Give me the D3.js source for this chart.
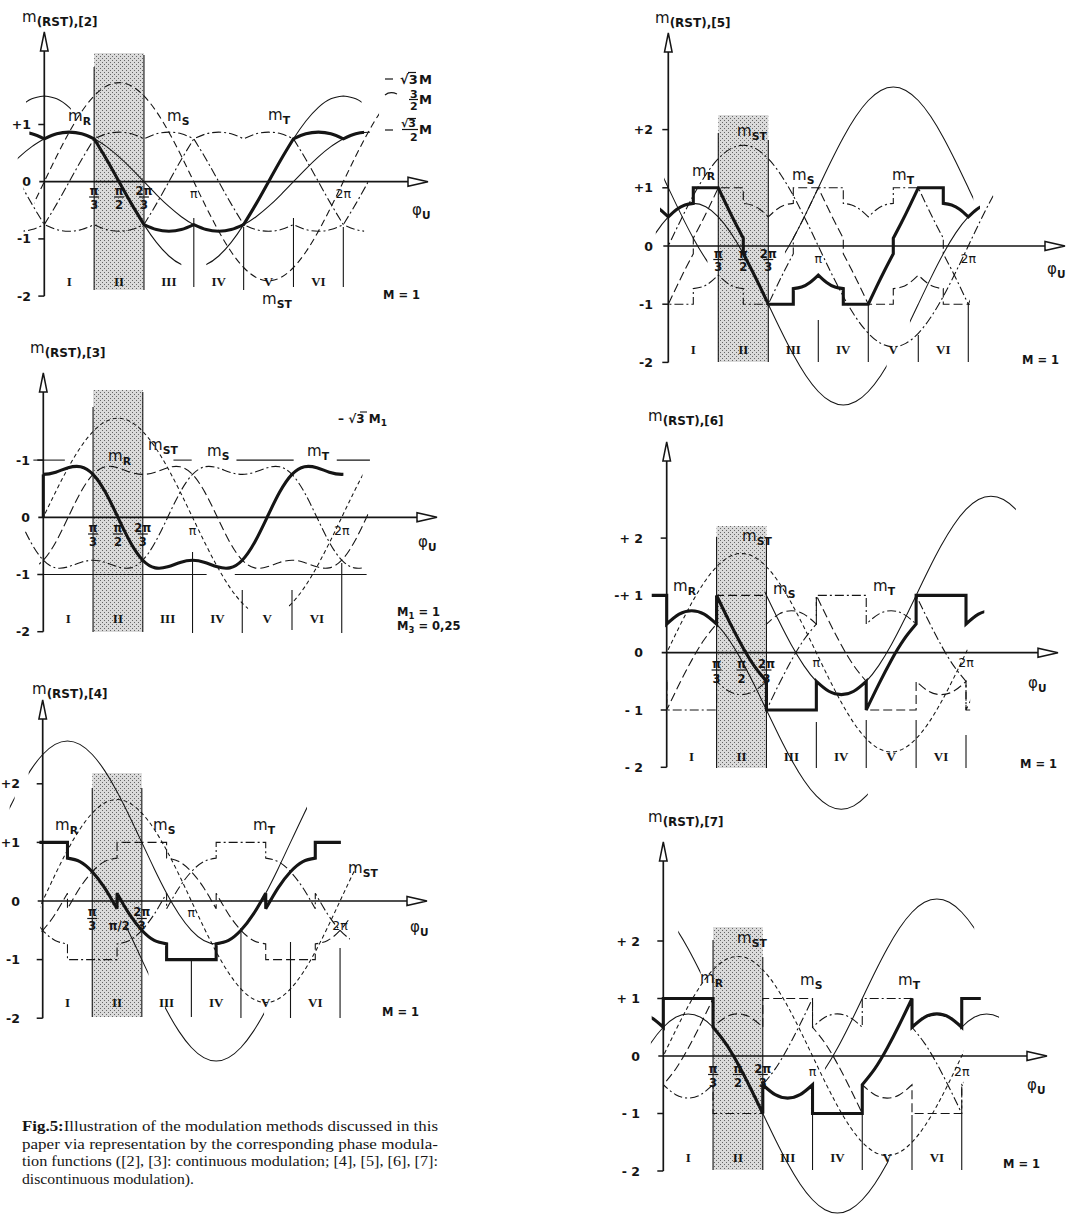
<!DOCTYPE html>
<html>
<head>
<meta charset="utf-8">
<script src="https://cdn.jsdelivr.net/npm/d3@7"></script>
<style>
  body { margin: 0; background: #fff; }
  svg { display: block; }
  .lbl { font-family: "DejaVu Sans", sans-serif; fill: #151515; }
  .rom { font-family: "Liberation Serif", "DejaVu Serif", serif; font-weight: bold; fill: #151515; }
  .cap { font-family: "Liberation Serif", "DejaVu Serif", serif; fill: #151515; }
</style>
</head>
<body>
<svg id="fig" width="1067" height="1214"></svg>
<script>
// ---------------------------------------------------------------
// Phase modulation functions m(φ_U), one period, [phase in degrees, value].
// A repeated phase marks a corner, cusp or jump between two pieces.
// ---------------------------------------------------------------

// [2] space-vector modulation
const mR2 = [[0,.75],[15,.837],[30,.866],[45,.837],[60,.75],
  [60,.75],[75,.388],[90,0],[105,-.388],[120,-.75],
  [120,-.75],[135,-.837],[150,-.866],[165,-.837],[180,-.75],
  [180,-.75],[195,-.837],[210,-.866],[225,-.837],[240,-.75],
  [240,-.75],[255,-.388],[270,0],[285,.388],[300,.75],
  [300,.75],[315,.837],[330,.866],[345,.837],[360,.75]];

// [3] third-harmonic injection (M1 = 1, M3 = 0.25), smooth over the period
const mR3 = [[0,.75],[15,.789],[30,.866],[45,.884],[60,.75],[75,.436],[90,0],[105,-.436],
  [120,-.75],[135,-.884],[150,-.866],[165,-.789],[180,-.75],[195,-.789],[210,-.866],[225,-.884],
  [240,-.75],[255,-.436],[270,0],[285,.436],[300,.75],[315,.884],[330,.866],[345,.789],[360,.75]];

// [4] discontinuous, 60° clamping centred on the phase peaks
const mR4 = [[0,1],[30,1],[30,.732],[45,.673],[60,.5],[75,.225],[90,-.134],
  [90,.134],[105,-.225],[120,-.5],[135,-.673],[150,-.732],[150,-1],[210,-1],
  [210,-.732],[225,-.673],[240,-.5],[255,-.225],[270,.134],[270,-.134],[285,.225],
  [300,.5],[315,.673],[330,.732],[330,1],[360,1]];

// [5] discontinuous, 30° clamping intervals
const mR5 = [[0,.5],[10,.628],[20,.706],[30,.732],[30,1],[60,1],[60,1],[70,.699],[80,.408],[90,.134],
  [90,-.134],[100,-.408],[110,-.699],[120,-1],[120,-1],[150,-1],[150,-.732],[160,-.706],[170,-.628],[180,-.5],
  [180,-.5],[190,-.628],[200,-.706],[210,-.732],[210,-1],[240,-1],[240,-1],[250,-.699],[260,-.408],[270,-.134],
  [270,.134],[280,.408],[290,.699],[300,1],[300,1],[330,1],[330,.732],[340,.706],[350,.628],[360,.5]];

// [6] discontinuous, clamping lagging the phase peaks
const mR6 = [[0,.5],[15,.673],[30,.732],[45,.673],[60,.5],[60,1],[75,.552],[90,.134],[105,-.225],[120,-.5],
  [120,-1],[180,-1],[180,-.5],[195,-.673],[210,-.732],[225,-.673],[240,-.5],[240,-1],[255,-.552],
  [270,-.134],[285,.225],[300,.5],[300,1],[360,1]];

// [7] discontinuous, clamping leading the phase peaks
const mR7 = [[0,1],[60,1],[60,.5],[75,.225],[90,-.134],[105,-.552],[120,-1],[120,-.5],[135,-.673],
  [150,-.732],[165,-.673],[180,-.5],[180,-1],[240,-1],[240,-.5],[255,-.225],[270,.134],[285,.552],
  [300,1],[300,.5],[315,.673],[330,.732],[345,.673],[360,.5]];

// line-to-line function m_ST (amplitude √3 M)
const mST = [[0,0],[15,.448],[30,.866],[45,1.225],[60,1.5],[75,1.673],[90,1.732],[105,1.673],[120,1.5],
  [135,1.225],[150,.866],[165,.448],[180,0],[195,-.448],[210,-.866],[225,-1.225],[240,-1.5],[255,-1.673],
  [270,-1.732],[285,-1.673],[300,-1.5],[315,-1.225],[330,-.866],[345,-.448],[360,0]];

// auxiliary thin curves (continuations of the sector pieces)
const auxA = [[0,2.5],[15,2.673],[30,2.732],[45,2.673],[60,2.5],[75,2.225],[90,1.866],[105,1.448],[120,1],
  [135,.552],[150,.134],[165,-.225],[180,-.5],[195,-.673],[210,-.732],[225,-.673],[240,-.5],[255,-.225],
  [270,.134],[285,.552],[300,1],[315,1.448],[330,1.866],[345,2.225],[360,2.5]];
const auxB = [[0,.5],[15,.673],[30,.732],[45,.673],[60,.5],[75,.225],[90,-.134],[105,-.552],[120,-1],
  [135,-1.448],[150,-1.866],[165,-2.225],[180,-2.5],[195,-2.673],[210,-2.732],[225,-2.673],[240,-2.5],
  [255,-2.225],[270,-1.866],[285,-1.448],[300,-1],[315,-.552],[330,-.134],[345,.225],[360,.5]];
const auxC = [[0,1],[15,.552],[30,.134],[45,-.225],[60,-.5],[75,-.673],[90,-.732],[105,-.673],[120,-.5],
  [135,-.225],[150,.134],[165,.552],[180,1],[195,1.448],[210,1.866],[225,2.225],[240,2.5],[255,2.673],
  [270,2.732],[285,2.673],[300,2.5],[315,2.225],[330,1.866],[345,1.448],[360,1]];
const auxD = [[0,2.5],[15,2.225],[30,1.866],[45,1.448],[60,1],[75,.552],[90,.134],[105,-.225],[120,-.5],
  [135,-.673],[150,-.732],[165,-.673],[180,-.5],[195,-.225],[210,.134],[225,.552],[240,1],[255,1.448],
  [270,1.866],[285,2.225],[300,2.5],[315,2.673],[330,2.732],[345,2.673],[360,2.5]];
const auxE = [[0,1.5],[15,1.449],[30,1.299],[45,1.061],[60,.75],[75,.388],[90,0],[105,-.388],[120,-.75],
  [135,-1.061],[150,-1.299],[165,-1.449],[180,-1.5],[195,-1.449],[210,-1.299],[225,-1.061],[240,-.75],
  [255,-.388],[270,0],[285,.388],[300,.75],[315,1.061],[330,1.299],[345,1.449],[360,1.5]];
const auxF = [[0,.75],[15,.837],[30,.866],[45,.837],[60,.75],[75,.612],[90,.433],[105,.224],[120,0],
  [135,-.224],[150,-.433],[165,-.612],[180,-.75],[195,-.837],[210,-.866],[225,-.837],[240,-.75],
  [255,-.612],[270,-.433],[285,-.224],[300,0],[315,.224],[330,.433],[345,.612],[360,.75]];

// phase offsets of the three phases
const phaseShift = { R: 0, S: 120, T: 240 };

// axis annotations
const sectorNames = ["I", "II", "III", "IV", "V", "VI"];
const sectorMid = [30, 90, 150, 210, 270, 330];
const yTicksA = [1, 0, -1, -2];
const yTicksB = [2, 1, 0, -1, -2];
const yLabels2 = ["+1", "0", "-1", "-2"];
const yLabels3 = ["-1", "0", "-1", "-2"];
const yLabels45 = ["+2", "+1", "0", "-1", "-2"];
const yLabels6 = ["+ 2", "-+ 1", "0", "- 1", "- 2"];
const yLabels7 = ["+ 2", "+ 1", "0", "- 1", "- 2"];
const fracTicks = [[60, "π", "3"], [90, "π", "2"], [120, "2π", "3"]];
const plainTicks = [[180, "π"], [360, "2π"]];
// reference lines at ±1 in [3]: [value, from°, to°]
const refLines3 = [[1,-12,26],[1,157,179],[1,233,302],[1,354,394],[-1,-4,197],[-1,231,390]];

const captionLines = [
  "Illustration of the modulation methods discussed in this",
  "paper via representation by the corresponding phase modula-",
  "tion functions ([2], [3]: continuous modulation; [4], [5], [6], [7]:",
  "discontinuous modulation)."
];

// ---------------------------------------------------------------
// line styles
// ---------------------------------------------------------------
const ST = {
  thick: { w: 3.1, dash: null },
  thin:  { w: 1.05, dash: null },
  dashL: { w: 1.1, dash: "9,4" },
  dashDot: { w: 1.1, dash: "9,3,2,3" },
  dashS: { w: 1.05, dash: "4,3" },
  dashM: { w: 1.1, dash: "7,4" }
};

// ---------------------------------------------------------------
// panel layouts
// ---------------------------------------------------------------
const panels = [
  { name: "[2]", x0: 44.3, kx: 0.8306, y0: 181.7, unit: 57.2, arrowTop: 32, xTip: 428,
    shade: [53, 290], secII: [[60, 67, 290], [120, 55, 290]],
    sectors: [[180, 218, 287], [240, 227, 290], [300, 218, 287], [360, 227, 287]],
    numY: 286, ticks: yTicksA, tickLabels: yLabels2, tickRight: 31,
    frac: [194.5, 197, 208.5], piY: 198, inlineHalf: false,
    phi: [412, 215], title: [22, 22],
    labels: [["R", 68, 121], ["S", 167, 121], ["T", 268, 120], ["ST", 262, 304]],
    extra: [["M = 1", 383, 299]],
    traces: [
      { t: auxE, sh: 0, st: "thin", r: [[-22, 32], [118, 165], [195, 382]] },
      { t: auxF, sh: 0, st: "thin", r: [[-32, 392]] },
      { t: mST, sh: 0, st: "dashM", smooth: true, r: [[-12, 403]] },
      { t: mR2, sh: phaseShift.S, st: "dashDot", r: [[-25, 390]] },
      { t: mR2, sh: phaseShift.T, st: "dashDot", r: [[-25, 385]] },
      { t: mR2, sh: phaseShift.R, st: "thick", r: [[-18, 385]] }
    ] },
  { name: "[3]", x0: 43.3, kx: 0.829, y0: 517.3, unit: 57.2, arrowTop: 373, xTip: 437,
    shade: [390, 632], secII: [[60, 407, 632], [120, 392, 632]],
    sectors: [[180, 552, 633], [240, 590, 633], [300, 590, 630], [360, 563, 633]],
    numY: 623, ticks: yTicksA, tickLabels: yLabels3, tickRight: 30,
    frac: [531.5, 534, 545.5], piY: 535, inlineHalf: false,
    phi: [418, 547], title: [30, 353],
    labels: [["R", 108, 461], ["ST", 148, 450], ["S", 207, 456], ["T", 307, 456]],
    extra: [],
    refLines: refLines3,
    traces: [
      { t: mST, sh: 0, st: "dashS", smooth: true, r: [[0, 247], [296, 385]] },
      { t: mR3, sh: phaseShift.S, st: "dashL", smooth: true, r: [[-5, 392]] },
      { t: mR3, sh: phaseShift.T, st: "dashDot", smooth: true, r: [[-22, 385]] },
      { t: mR3, sh: phaseShift.R, st: "thick", smooth: true, r: [[0, 362]], startFromZero: true }
    ] },
  { name: "[4]", x0: 42.7, kx: 0.826, y0: 901, unit: 58.6, arrowTop: 700, xTip: 427,
    shade: [773, 1017], secII: [[60, 788, 1017], [120, 788, 1017]],
    sectors: [[180, 958, 1017], [240, 928, 1018], [300, 942, 1018], [360, 948, 1018]],
    numY: 1007, ticks: yTicksB, tickLabels: yLabels45, tickRight: 20,
    frac: [916, 918.5, 930], piY: 917, inlineHalf: true,
    phi: [410, 932], title: [32, 694],
    labels: [["R", 55, 830], ["S", 153, 830], ["T", 253, 830], ["ST", 348, 873]],
    extra: [["M = 1", 382, 1016]],
    traces: [
      { t: auxA, sh: 0, st: "thin", smooth: true, r: [[-40, -34], [-17, 320]] },
      { t: auxB, sh: 0, st: "thin", smooth: true, r: [[100, 128], [148, 268]] },
      { t: mST, sh: 0, st: "dashS", smooth: true, r: [[-3, 380]] },
      { t: mR4, sh: phaseShift.S, st: "dashL", r: [[-3, 372]] },
      { t: mR4, sh: phaseShift.T, st: "dashDot", r: [[-3, 372]] },
      { t: mR4, sh: phaseShift.R, st: "thick", r: [[-4, 361]] }
    ] },
  { name: "[5]", x0: 668.3, kx: 0.8333, y0: 246, unit: 58.2, arrowTop: 33, xTip: 1065,
    shade: [115, 362], secII: [[60, 133, 362], [120, 140, 362]],
    sectors: [[180, 320, 362], [240, 303, 362], [300, 335, 362], [360, 303, 362]],
    numY: 354, ticks: yTicksB, tickLabels: yLabels45, tickRight: 653,
    frac: [257.5, 259.5, 271], piY: 263, inlineHalf: false,
    phi: [1047, 274], title: [655, 23],
    labels: [["R", 692, 176], ["ST", 737, 136], ["S", 792, 180], ["T", 892, 180]],
    extra: [["M = 1", 1022, 364]],
    traces: [
      { t: auxC, sh: 0, st: "thin", smooth: true, r: [[-5, 47], [140, 366]] },
      { t: auxB, sh: 0, st: "thin", smooth: true, r: [[-15, 262], [290, 372]] },
      { t: mST, sh: 0, st: "dashDot", smooth: true, r: [[0, 390]] },
      { t: mR5, sh: phaseShift.S, st: "dashL", r: [[0, 362]] },
      { t: mR5, sh: phaseShift.T, st: "dashDot", r: [[0, 362]] },
      { t: mR5, sh: phaseShift.R, st: "thick", r: [[-10, 374]] }
    ] },
  { name: "[6]", x0: 666.7, kx: 0.8314, y0: 652.7, unit: 57.3, arrowTop: 442, xTip: 1058,
    shade: [526, 768], secII: [[60, 537, 768], [120, 537, 768]],
    sectors: [[180, 722, 768], [240, 720, 768], [300, 720, 768], [360, 735, 768]],
    numY: 761, ticks: yTicksB, tickLabels: yLabels6, tickRight: 643,
    frac: [668, 670, 683], piY: 667, inlineHalf: false,
    phi: [1028, 688], title: [648, 421],
    labels: [["R", 673, 591], ["ST", 742, 541], ["S", 773, 594], ["T", 873, 591]],
    extra: [["M = 1", 1020, 768]],
    traces: [
      { t: auxA, sh: 0, st: "thin", smooth: true, r: [[118, 420]] },
      { t: auxB, sh: 0, st: "thin", smooth: true, r: [[60, 242]] },
      { t: mST, sh: 0, st: "dashS", smooth: true, r: [[0, 362]] },
      { t: mR6, sh: phaseShift.S, st: "dashL", r: [[0, 365]] },
      { t: mR6, sh: phaseShift.T, st: "dashDot", r: [[0, 365]] },
      { t: mR6, sh: phaseShift.R, st: "thick", r: [[-18, 382]] }
    ] },
  { name: "[7]", x0: 663.3, kx: 0.829, y0: 1056, unit: 57.5, arrowTop: 842, xTip: 1047,
    shade: [927, 1170], secII: [[60, 940, 1170], [120, 957, 1170]],
    sectors: [[180, 1115, 1170], [240, 1115, 1170], [300, 1115, 1170], [360, 1113, 1170]],
    numY: 1162, ticks: yTicksB, tickLabels: yLabels7, tickRight: 640,
    frac: [1072.5, 1074.5, 1086.5], piY: 1076, inlineHalf: false,
    phi: [1027, 1090], title: [648, 822],
    labels: [["R", 700, 983], ["ST", 737, 943], ["S", 800, 985], ["T", 898, 985]],
    extra: [["M = 1", 1003, 1168]],
    traces: [
      { t: auxD, sh: 0, st: "thin", smooth: true, r: [[18, 45], [195, 375]] },
      { t: auxB, sh: 0, st: "thin", smooth: true, r: [[-15, 272], [358, 405]] },
      { t: mST, sh: 0, st: "dashS", smooth: true, r: [[0, 362]] },
      { t: mR7, sh: phaseShift.S, st: "dashL", r: [[0, 362]] },
      { t: mR7, sh: phaseShift.T, st: "dashDot", r: [[0, 362]] },
      { t: mR7, sh: phaseShift.R, st: "thick", r: [[-14, 383]] }
    ] }
];

// ---------------------------------------------------------------
// drawing
// ---------------------------------------------------------------
const W = 1067, H = 1214, INK = "#151515";
const svg = d3.select("#fig");
const defs = svg.append("defs");

// stippled fill of sector II
const pat = defs.append("pattern").attr("id", "stipple")
  .attr("width", 4).attr("height", 4).attr("patternUnits", "userSpaceOnUse");
pat.append("rect").attr("width", 4).attr("height", 4).attr("fill", "#dadada");
pat.append("rect").attr("x", 0).attr("y", 0).attr("width", 1).attr("height", 1).attr("fill", "#666");
pat.append("rect").attr("x", 2).attr("y", 2).attr("width", 1).attr("height", 1).attr("fill", "#666");

const spline = d3.line().curve(d3.curveNatural);

// repeat a one-period table over three periods, shifted in phase
function periodic(table, shift, smooth) {
  const out = [];
  for (let k = -1; k <= 1; k++) {
    table.forEach((p, i) => {
      if (smooth && k > -1 && i === 0) return;
      out.push([p[0] + shift + 360 * k, p[1]]);
    });
  }
  return out;
}

// spline each piece, join pieces with straight connectors
function buildPath(pts, xs, ys) {
  let d = "", seg = [], open = false;
  const flush = () => {
    if (!seg.length) return;
    const px = seg.map(p => [xs(p[0]), ys(p[1])]);
    let s = px.length === 1 ? `M${px[0][0]},${px[0][1]}` : spline(px);
    if (open) s = "L" + s.slice(1);
    d += s; open = true; seg = [];
  };
  pts.forEach(p => {
    if (seg.length && seg[seg.length - 1][0] === p[0]) flush();
    seg.push(p);
  });
  flush();
  return d;
}

let clipCount = 0;

function mLabel(g, x, y, sub, size, subScale) {
  const t = g.append("text").attr("class", "lbl").attr("x", x).attr("y", y)
    .attr("font-size", size || 15);
  t.append("tspan").text("m");
  t.append("tspan").attr("dy", 4).attr("font-size", (size || 15) * (subScale || 0.72))
    .attr("font-weight", 600).text(sub);
}

function drawPanel(P) {
  const g = svg.append("g");
  const xs = d3.scaleLinear().domain([0, 360]).range([P.x0, P.x0 + 360 * P.kx]);
  const ys = d3.scaleLinear().domain([0, 1]).range([P.y0, P.y0 - P.unit]);

  // sector II shading and borders
  g.append("rect").attr("x", xs(60)).attr("y", P.shade[0])
    .attr("width", xs(120) - xs(60)).attr("height", P.shade[1] - P.shade[0])
    .attr("fill", "url(#stipple)");
  P.secII.concat(P.sectors).forEach(([deg, t, b]) => {
    g.append("line").attr("x1", xs(deg)).attr("x2", xs(deg)).attr("y1", t).attr("y2", b)
      .attr("stroke", INK).attr("stroke-width", 1.1);
  });

  // reference lines
  (P.refLines || []).forEach(([v, a, b]) => {
    g.append("line").attr("x1", xs(a)).attr("x2", xs(b)).attr("y1", ys(v)).attr("y2", ys(v))
      .attr("stroke", INK).attr("stroke-width", 1.05);
  });

  // curves
  P.traces.forEach(tr => {
    const id = "clip" + (clipCount++);
    const cp = defs.append("clipPath").attr("id", id);
    tr.r.forEach(([a, b]) => cp.append("rect").attr("x", xs(a)).attr("y", 0)
      .attr("width", xs(b) - xs(a)).attr("height", H));
    const pts = periodic(tr.t, tr.sh, tr.smooth);
    const st = ST[tr.st];
    const path = g.append("path").attr("clip-path", `url(#${id})`)
      .attr("d", buildPath(pts, xs, ys))
      .attr("fill", "none").attr("stroke", INK).attr("stroke-width", st.w)
      .attr("stroke-linejoin", "miter").attr("stroke-miterlimit", 3);
    if (st.dash) path.attr("stroke-dasharray", st.dash);
    if (tr.startFromZero) {
      g.append("line").attr("x1", xs(0)).attr("x2", xs(0)).attr("y1", ys(0)).attr("y2", ys(tr.t[0][1]))
        .attr("stroke", INK).attr("stroke-width", st.w);
    }
  });

  // axes
  const yBot = ys(-2);
  g.append("line").attr("x1", xs(0)).attr("x2", xs(0)).attr("y1", yBot).attr("y2", P.arrowTop + 18)
    .attr("stroke", INK).attr("stroke-width", 1.7);
  g.append("path").attr("d", `M${xs(0)},${P.arrowTop}L${xs(0) - 3.8},${P.arrowTop + 19}L${xs(0) + 3.8},${P.arrowTop + 19}Z`)
    .attr("fill", "#fff").attr("stroke", INK).attr("stroke-width", 1.5).attr("stroke-linejoin", "miter");
  g.append("line").attr("x1", xs(0) - 5).attr("x2", P.xTip - 19).attr("y1", ys(0)).attr("y2", ys(0))
    .attr("stroke", INK).attr("stroke-width", 1.7);
  g.append("path").attr("d", `M${P.xTip},${ys(0)}L${P.xTip - 20},${ys(0) - 4.5}L${P.xTip - 20},${ys(0) + 4.5}Z`)
    .attr("fill", "#fff").attr("stroke", INK).attr("stroke-width", 1.5);

  // y ticks and labels
  P.ticks.forEach((v, i) => {
    if (v !== 0) g.append("line").attr("x1", xs(0) - 6).attr("x2", xs(0)).attr("y1", ys(v)).attr("y2", ys(v))
      .attr("stroke", INK).attr("stroke-width", 1.5);
    g.append("text").attr("class", "lbl").attr("x", P.tickRight).attr("y", ys(v) + 4.5)
      .attr("text-anchor", "end").attr("font-size", 12.5).attr("font-weight", 600).text(P.tickLabels[i]);
  });

  // x tick labels
  fracTicks.forEach(([deg, num, den]) => {
    const x = xs(deg);
    if (P.inlineHalf && den === "2") {
      g.append("text").attr("class", "lbl").attr("x", x + 2).attr("y", P.frac[2])
        .attr("text-anchor", "middle").attr("font-size", 11.5).attr("font-weight", 600).text("π/2");
      return;
    }
    g.append("text").attr("class", "lbl").attr("x", x).attr("y", P.frac[0])
      .attr("text-anchor", "middle").attr("font-size", 11.5).attr("font-weight", 600).text(num);
    g.append("line").attr("x1", x - 5).attr("x2", x + 5).attr("y1", P.frac[1]).attr("y2", P.frac[1])
      .attr("stroke", INK).attr("stroke-width", 1.2);
    g.append("text").attr("class", "lbl").attr("x", x).attr("y", P.frac[2])
      .attr("text-anchor", "middle").attr("font-size", 11.5).attr("font-weight", 600).text(den);
  });
  plainTicks.forEach(([deg, s]) => {
    g.append("text").attr("class", "lbl").attr("x", xs(deg)).attr("y", deg === 360 && P.inlineHalf ? P.frac[2] : P.piY)
      .attr("text-anchor", "middle").attr("font-size", 12.5).text(s);
  });

  // sector numerals
  sectorNames.forEach((s, i) => {
    g.append("text").attr("class", "rom").attr("x", xs(sectorMid[i])).attr("y", P.numY)
      .attr("text-anchor", "middle").attr("font-size", 13).text(s);
  });

  // φ_U
  const ph = g.append("text").attr("class", "lbl").attr("x", P.phi[0]).attr("y", P.phi[1]).attr("font-size", 15);
  ph.append("tspan").text("φ");
  ph.append("tspan").attr("dy", 4).attr("font-size", 10.5).attr("font-weight", 600).text("U");

  // titles and curve names
  mLabel(g, P.title[0], P.title[1], "(RST)," + P.name, 15, 0.8);
  P.labels.forEach(([s, x, y]) => mLabel(g, x, y, s, 15));
  P.extra.forEach(([s, x, y]) => g.append("text").attr("class", "lbl").attr("x", x).attr("y", y)
    .attr("font-size", 11.5).attr("font-weight", 600).text(s));
  return { g, xs, ys };
}

const drawn = panels.map(drawPanel);

// amplitude key of [2]
(function () {
  const g = drawn[0].g;
  const txt = (x, y, s, fs) => g.append("text").attr("class", "lbl").attr("x", x).attr("y", y)
    .attr("font-size", fs || 13).attr("font-weight", 600).text(s);
  const ln = (x1, y1, x2, y2) => g.append("line").attr("x1", x1).attr("y1", y1).attr("x2", x2).attr("y2", y2)
    .attr("stroke", INK).attr("stroke-width", 1.2);
  ln(385, 79, 393, 79); txt(400, 84, "√3"); ln(408, 72.5, 416, 72.5); txt(419, 84, "M");
  g.append("path").attr("d", "M385,95Q390,91 397,94").attr("fill", "none").attr("stroke", INK).attr("stroke-width", 1.2);
  txt(410, 97.5, "3", 11); ln(409, 99.5, 418, 99.5); txt(410, 110, "2", 11); txt(419, 104, "M");
  ln(385, 130, 393, 130); txt(401, 127, "√3", 11); ln(408, 118.5, 416, 118.5); ln(402, 129.5, 418, 129.5);
  txt(410, 141, "2", 11); txt(419, 134, "M");
})();

// modulation indices of [3]
(function () {
  const g = drawn[1].g;
  const t = g.append("text").attr("class", "lbl").attr("x", 338).attr("y", 423).attr("font-size", 12).attr("font-weight", 600);
  t.append("tspan").text("– √3 M");
  t.append("tspan").attr("dy", 3).attr("font-size", 9).text("1");
  g.append("line").attr("x1", 360).attr("x2", 367).attr("y1", 412).attr("y2", 412).attr("stroke", INK).attr("stroke-width", 1.1);
  [["1", " = 1", 616], ["3", " = 0,25", 630]].forEach(([k, v, y]) => {
    const s = g.append("text").attr("class", "lbl").attr("x", 397).attr("y", y).attr("font-size", 11.5).attr("font-weight", 600);
    s.append("tspan").text("M");
    s.append("tspan").attr("dy", 3).attr("font-size", 8.5).text(k);
    s.append("tspan").attr("dy", -3).text(v);
  });
})();

// caption
(function () {
  const base = [1131, 1148.5, 1166, 1183.5];
  const widths = [416, 416, 416, 172];
  captionLines.forEach((s, i) => {
    const t = svg.append("text").attr("class", "cap").attr("x", 22).attr("y", base[i]).attr("font-size", 14.5);
    if (i === 0) {
      t.append("tspan").attr("font-weight", "bold").text("Fig.5:");
      t.append("tspan").text(s);
    } else t.text(s);
    t.attr("textLength", widths[i]).attr("lengthAdjust", "spacingAndGlyphs");
  });
})();
</script>
</body>
</html>
